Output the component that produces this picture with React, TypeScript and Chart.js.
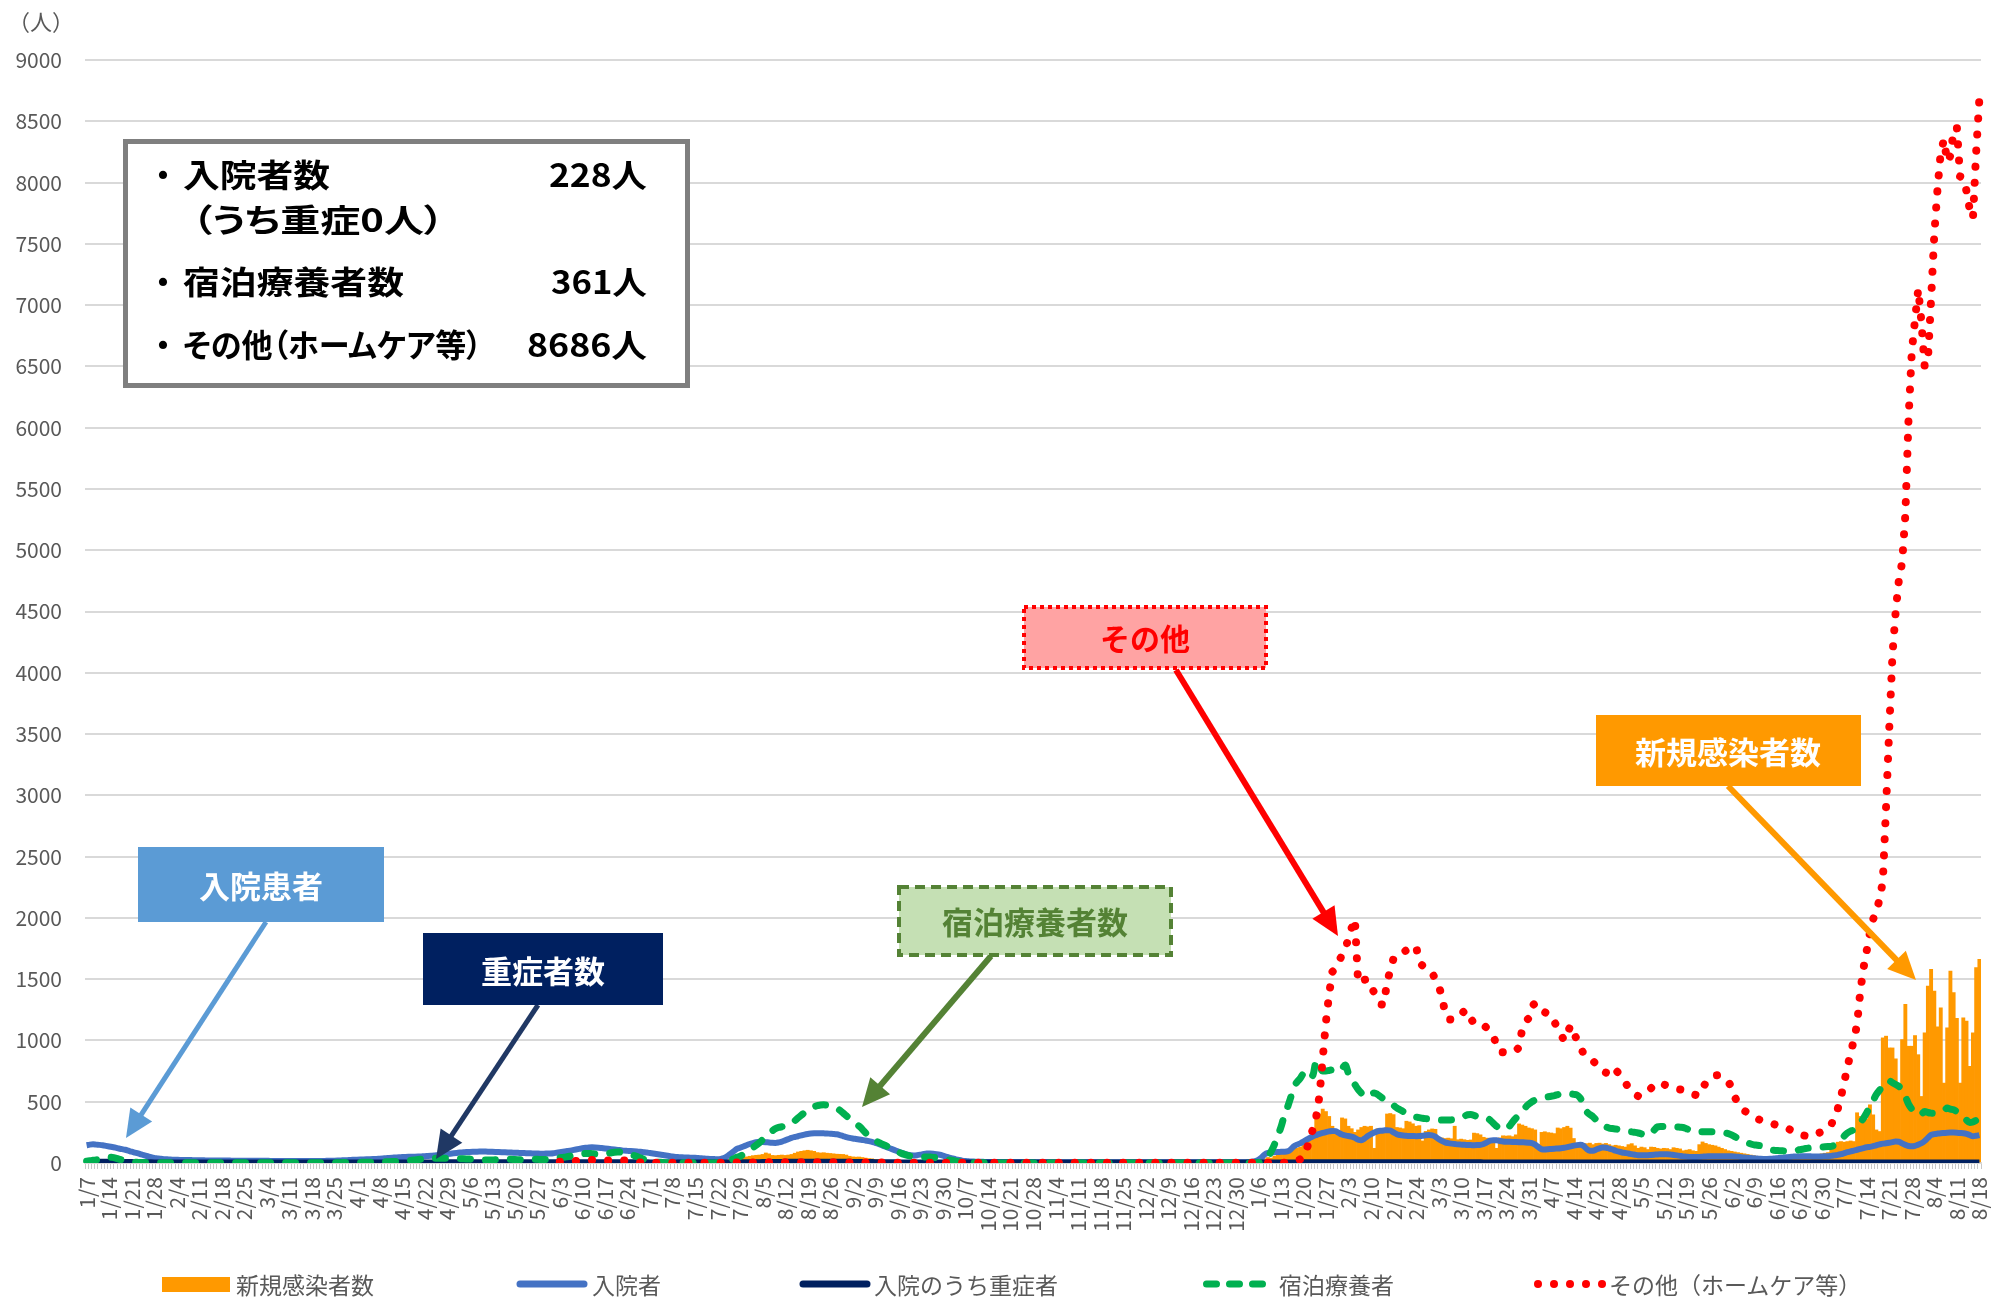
import React, { useEffect, useRef } from 'react';
import { Chart, registerables } from 'chart.js';
Chart.register(...registerables);

const FONT = "'Noto Sans CJK JP', 'Noto Sans', sans-serif";
Chart.defaults.font.family = FONT;

// daily categories 2021/1/7 .. 2022/8/18
const START_UTC = Date.UTC(2021, 0, 7);
const DAY_COUNT = 589;
const categories: string[] = [];
for (let i = 0; i < DAY_COUNT; i++) {
  const d = new Date(START_UTC + i * 86400000);
  categories.push(`${d.getUTCFullYear()}/${d.getUTCMonth() + 1}/${d.getUTCDate()}`);
}

// weekly tick labels (every 7th day)
const tickLabels = ['1/7','1/14','1/21','1/28','2/4','2/11','2/18','2/25','3/4','3/11','3/18','3/25','4/1','4/8','4/15','4/22','4/29','5/6','5/13','5/20','5/27','6/3','6/10','6/17','6/24','7/1','7/8','7/15','7/22','7/29','8/5','8/12','8/19','8/26','9/2','9/9','9/16','9/23','9/30','10/7','10/14','10/21','10/28','11/4','11/11','11/18','11/25','12/2','12/9','12/16','12/23','12/30','1/6','1/13','1/20','1/27','2/3','2/10','2/17','2/24','3/3','3/10','3/17','3/24','3/31','4/7','4/14','4/21','4/28','5/5','5/12','5/19','5/26','6/2','6/9','6/16','6/23','6/30','7/7','7/14','7/21','7/28','8/4','8/11','8/18'];

const yTicks = [0,500,1000,1500,2000,2500,3000,3500,4000,4500,5000,5500,6000,6500,7000,7500,8000,8500,9000];

// 新規感染者数 (daily new cases)
const newCases = [
22,25,20,18,15,20,18, // 1/7
16,14,12,15,10,8,9,
7,6,5,6,4,3,4,
3,2,3,2,2,1,2,
2,1,2,1,1,0,1, // 2/4
1,0,1,1,0,0,1,
1,1,0,1,1,0,0,
1,0,0,1,1,0,1,
0,1,1,0,1,1,0, // 3/4
1,1,0,1,2,1,0,
1,2,1,2,1,1,2,
2,1,2,3,2,1,2,
3,2,3,2,4,3,2, // 4/1
3,4,3,2,4,3,3,
4,3,5,4,3,4,3,
4,5,4,3,5,4,3,
5,4,6,5,4,5,4, // 4/29
5,6,4,5,6,5,4,
4,5,3,4,5,4,3,
3,4,5,4,6,5,4,
6,8,10,9,12,10,8, // 5/27
12,15,14,12,16,13,10, // 6/3
10,12,11,9,10,8,7,
8,7,6,7,5,6,5,
5,4,4,3,4,3,3,
3,4,3,3,2,3,2, // 7/1
2,3,3,2,3,4,3,
4,5,6,5,7,8,9,
15,20,25,28,30,32,36,
40,45,50,55,60,63,65, // 7/29
70,82,75,62,60,63,65, // 8/5
62,65,70,80,90,95,100,
104,100,95,85,82,84,80,
78,75,72,71,70,65,55,
50,48,49,45,40,36,34, // 9/2
30,28,25,22,20,18,15,
12,10,9,8,7,6,5,
4,4,3,3,3,2,2,
2,2,1,2,1,1,2, // 9/30
1,1,1,0,1,1,0, // 10/7
1,0,1,0,0,1,0,
0,1,0,0,1,0,0,
0,0,1,0,0,0,1,
0,0,0,1,0,0,0, // 11/4
1,0,0,0,0,1,0,
0,0,1,0,0,0,0,
0,1,0,0,0,1,0,
0,0,0,1,0,0,1, // 12/2
0,0,1,0,0,0,0,
1,0,0,0,1,0,0,
0,0,1,0,1,1,0,
1,1,2,2,3,5,8, // 12/30
15,25,35,45,40,55,70, // 2022 1/6
85,95,90,100,110,120,130,
150,180,217,240,380,400,440,
420,380,300,272,260,368,360,
300,280,250,270,290,300,295, // 2/3
300,120,280,250,244,400,404,
395,290,286,280,341,335,320,
300,305,180,258,270,278,275,
210,205,200,203,198,300,190, // 3/3
195,190,185,188,244,240,230,
210,203,200,200,120,205,222,
220,222,215,230,319,310,300,
286,280,270,150,250,255,248, // 3/31
245,240,286,280,290,300,285,
200,162,165,160,158,162,150,
160,162,155,160,150,140,145,
140,135,130,150,158,140,120, // 4/28
130,125,110,130,128,120,115,
120,118,110,125,120,115,100,
105,110,100,95,150,172,160,
150,145,140,130,120,110,100, // 5/26
95,90,85,80,75,70,65,
60,55,50,48,45,45,42,
40,40,38,38,36,36,38,
45,50,48,55,52,60,58, // 6/23
75,80,85,120,150,170,175, // 6/30
170,175,180,175,410,380,330, // 7/7
360,475,393,270,257,1021,1035,
939,939,850,625,1007,1294,953,
953,1040,884,543,1062,1444,1580, // 7/28
1403,1111,1267,652,1103,1567,1390,
1180,652,1185,1157,789,1062,1594,
1662 // 8/18
];

// 入院者 (hospitalized)
const hospitalized = [
145,150,152,150,148,145,140, // 1/7
135,130,125,118,113,108,100,
92,85,78,70,62,55,48,
42,38,34,31,30,28,27,
26,25,25,24,24,23,23, // 2/4
22,22,21,21,21,20,20,
20,20,20,19,19,19,19,
19,18,18,18,18,18,18,
18,17,17,17,17,17,17, // 3/4
17,17,17,16,16,16,16,
16,16,16,17,17,18,18,
19,20,21,22,23,25,26,
27,28,29,30,31,32,33, // 4/1
35,37,39,41,43,45,47,
48,49,50,51,52,53,54,
55,57,59,61,64,67,70,
73,76,79,82,85,87,89, // 4/29
90,91,92,93,93,93,92,
91,90,89,88,87,86,85,
84,83,82,81,80,79,78,
77,76,76,77,78,80,84, // 5/27
88,92,96,100,105,110,115,
120,124,127,128,127,125,122,
119,116,113,110,107,104,101,
99,97,95,93,91,88,85,
81,77,73,69,65,61,57, // 7/1
53,50,48,46,45,44,43,
42,40,38,36,34,33,32,
31,33,40,55,75,95,115,
125,135,145,155,163,170,173, // 7/29
172,170,167,165,164,168,175,
185,195,205,212,218,225,232,
237,240,242,243,243,242,241,
239,237,234,228,220,212,205,
200,196,192,188,184,178,172, // 9/2
165,155,145,135,125,115,105,
95,85,76,68,63,62,64,
68,73,77,78,76,72,67,
60,52,44,37,30,24,19, // 9/30
16,14,12,11,10,10,9,
9,9,9,8,8,8,8,
8,8,8,8,8,8,8,
8,7,7,7,7,7,7,
7,7,7,7,7,7,7, // 11/4
7,6,6,6,6,6,6,
6,6,6,6,6,6,6,
6,6,6,6,6,6,6,
6,6,6,6,6,6,6, // 12/2
6,6,6,6,6,6,6,
6,6,6,6,6,6,6,
6,6,6,6,6,6,7,
7,7,7,7,8,10,15, // 12/30
25,45,70,82,86,88,90, // 2022 1/6
91,92,95,110,135,150,160,
175,190,205,218,228,237,245,
252,258,262,260,245,232,225,
220,215,205,190,185,200,220, // 2/3
235,248,258,263,266,268,265,
250,235,228,224,222,220,220,
219,220,222,226,228,226,215,
195,180,168,162,158,155,152, // 3/3
150,148,147,146,145,146,148,
155,168,182,186,185,180,176,
174,173,172,171,170,169,168,
166,163,150,130,112,110,112, // 3/31
115,117,118,120,124,130,136,
142,146,148,140,115,100,100,
110,120,126,125,118,110,100,
92,86,82,78,72,68,64, // 4/28
63,63,64,66,68,70,71,
72,72,70,66,62,58,54,
52,50,49,49,50,52,54,
55,56,56,56,55,55,55, // 5/26
55,54,52,48,45,42,40,
38,36,34,33,33,34,36,
38,41,44,47,50,52,54,
54,55,55,55,54,54,54, // 6/23
54,55,56,58,62,66,72,
80,88,95,101,108,115,122, // 7/7
128,132,138,145,152,158,161,
165,170,175,174,160,148,139,
136,140,150,161,180,205,229, // 7/28
236,240,243,245,247,248,248,
247,245,243,238,228,218,222,
228 // 8/18
];

// 入院のうち重症者 (severe)
const severe = [
8,8,8,7,7,7,6,
6,6,5,5,5,4,4,
4,3,3,3,2,2,2,
1,1,1,1,1,1,1,
1,1,1,1,1,1,1,
1,1,1,1,1,1,1,
1,1,1,1,1,1,1,
0,0,0,0,0,0,0, // 2/25
0,0,0,0,0,0,0,
0,0,0,0,0,0,0,
0,0,0,0,0,0,0,
0,0,0,0,0,0,0,
0,0,0,0,0,0,0,
0,0,0,0,0,0,0, // 4/8
1,1,1,1,1,1,1,
1,1,1,1,1,1,1,
2,2,2,2,2,2,2, // 4/29
2,2,2,2,2,2,2,
2,2,2,2,2,2,2,
2,2,2,2,2,2,2,
2,2,2,2,2,2,2,
3,3,3,3,3,3,3, // 6/3
3,3,3,3,3,3,3,
3,3,3,3,3,3,3,
2,2,2,2,2,2,2,
1,1,1,1,1,1,1, // 7/1
1,1,1,1,1,1,1,
1,1,1,1,1,1,1,
1,1,1,1,1,1,1,
3,3,3,3,3,3,3, // 7/29
5,5,5,5,5,5,5,
6,6,6,6,6,6,6,
6,6,6,6,6,6,6,
6,6,6,6,6,6,6,
4,4,4,4,4,4,4, // 9/2
2,2,2,2,2,2,2,
1,1,1,1,1,1,1,
1,1,1,1,1,1,1,
1,1,1,1,1,1,1, // 9/30
0,0,0,0,0,0,0, // 10/7
0,0,0,0,0,0,0,
0,0,0,0,0,0,0,
0,0,0,0,0,0,0,
0,0,0,0,0,0,0,
0,0,0,0,0,0,0,
0,0,0,0,0,0,0,
0,0,0,0,0,0,0,
0,0,0,0,0,0,0,
0,0,0,0,0,0,0,
0,0,0,0,0,0,0,
0,0,0,0,0,0,0,
0,0,0,0,0,0,0, // 12/30
0,0,0,0,0,0,0, // 1/6
1,1,1,1,1,1,1,
2,2,2,2,2,2,2,
3,3,3,3,3,3,3,
3,3,3,3,3,3,3, // 2/3
3,3,3,3,3,3,3,
3,3,3,3,3,3,3,
2,2,2,2,2,2,2,
2,2,2,2,2,2,2, // 3/3
2,2,2,2,2,2,2,
1,1,1,1,1,1,1,
1,1,1,1,1,1,1,
1,1,1,1,1,1,1,
1,1,1,1,1,1,1, // 4/7
1,1,1,1,1,1,1,
0,0,0,0,0,0,0,
0,0,0,0,0,0,0,
0,0,0,0,0,0,0,
0,0,0,0,0,0,0,
0,0,0,0,0,0,0, // 5/19
0,0,0,0,0,0,0,
0,0,0,0,0,0,0,
0,0,0,0,0,0,0,
0,0,0,0,0,0,0,
0,0,0,0,0,0,0,
0,0,0,0,0,0,0, // 6/30
1,1,1,1,1,1,1, // 7/7
1,1,1,1,1,1,1,
1,1,1,1,1,1,1,
1,1,1,1,1,1,1,
1,1,1,1,1,1,1, // 8/4
0,0,0,0,0,0,0,
0 // 8/18
];

// 宿泊療養者 (hotel)
const hotel = [
14,18,22,25,30,38,44, // 1/7
48,46,40,32,25,18,12,
8,6,5,4,4,3,3,
3,3,2,2,2,2,2,
2,2,2,2,2,2,2, // 2/4
2,2,2,2,2,2,2,
2,2,2,2,2,2,2,
2,2,2,2,2,2,2,
2,2,2,2,2,2,2, // 3/4
2,2,2,2,2,2,2,
2,2,2,2,2,2,2,
3,3,3,4,4,4,5,
5,5,6,6,6,7,7, // 4/1
8,9,10,11,12,13,14,
15,17,19,22,25,28,31,
34,36,37,38,38,38,38,
38,38,37,36,35,34,33, // 4/29
32,30,28,26,25,24,24,
25,27,30,32,33,32,30,
28,27,27,28,29,30,30,
30,29,28,29,31,34,38, // 5/27
42,46,50,55,60,66,72,
76,78,78,76,74,72,72,
74,78,84,88,90,89,86,
80,72,62,52,42,32,24,
17,12,8,6,4,3,3, // 7/1
2,2,2,2,2,2,2,
2,2,2,1,1,1,1,
2,4,8,15,24,34,46,
55,70,88,106,125,145,165, // 7/29
190,215,240,262,280,290,296,
302,308,325,345,368,390,410,
430,448,460,468,474,475,472,
466,458,448,430,408,385,365,
345,322,300,275,245,218,200, // 9/2
182,168,156,145,132,118,104,
92,80,70,62,56,53,51,
50,49,49,48,46,43,40,
35,30,25,20,15,10,7, // 9/30
5,4,3,2,2,2,1, // 10/7
1,1,1,1,1,1,1,
1,1,1,1,1,1,1,
1,1,1,1,1,1,1,
1,1,1,1,1,1,1, // 11/4
1,1,1,1,1,1,1,
1,1,1,1,1,1,1,
1,1,1,1,1,1,1,
1,1,1,1,1,1,1, // 12/2
1,1,1,1,1,1,1,
1,1,1,1,1,1,1,
1,1,1,1,1,1,1,
1,1,1,1,1,1,2, // 12/30
3,10,25,50,95,150,220, // 2022 1/6
290,380,450,530,620,660,690,
730,740,700,720,830,790,750,
750,755,760,750,745,770,800,
730,680,640,600,570,540,545, // 2/3
560,572,560,540,520,505,490,
470,450,435,420,410,395,382,
375,370,365,362,360,358,355,
352,350,350,350,352,355,360, // 3/3
370,382,394,396,388,380,377,
376,370,350,325,300,280,272,
281,300,335,365,390,420,455,
480,500,513,522,530,535,540, // 3/31
545,550,558,566,569,568,565,
560,555,530,480,420,396,377,
350,320,305,295,285,281,278,
272,266,260,255,254,250,245, // 4/28
238,230,227,240,270,295,298,
297,296,295,295,294,292,290,
280,268,256,254,254,254,254,
254,254,253,252,250,245,240, // 5/26
230,215,200,186,175,165,155,
148,145,140,130,120,110,104,
102,100,99,98,98,98,99,
108,112,118,122,125,127,128, // 6/23
130,132,134,136,145,165,190,
220,245,260,270,290,330,366, // 7/7
410,460,510,560,595,630,666,
670,655,640,625,600,543,480,
440,405,395,400,420,412,407, // 7/28
405,410,420,428,448,440,434,
420,407,380,350,330,335,348,
361 // 8/18
];

const N = null;
// その他（ホームケア等） (home care etc.)
const homeCare = [
N,N,N,N,N,N,N, // 1/7
N,N,N,N,N,N,N,
N,N,N,N,N,N,N,
N,N,N,N,N,N,N,
N,N,N,N,N,N,N, // 2/4
N,N,N,N,N,N,N,
N,N,N,N,N,N,N,
N,N,N,N,N,N,N,
N,N,N,N,N,N,N, // 3/4
N,N,N,N,N,N,N,
N,N,N,N,N,N,N,
N,N,N,N,N,N,N,
N,N,N,N,N,N,N, // 4/1
N,N,N,N,N,N,N,
N,N,N,N,N,N,N,
N,N,N,N,N,N,N,
N,N,N,N,N,N,N, // 4/29
N,N,N,N,N,N,N,
N,N,N,N,N,N,N,
N,N,N,N,N,N,N,
N,N,N,N,N,N,N, // 5/27
10,12,14,15,16,17,18, // 6/3
20,22,23,24,24,23,22,
21,21,21,20,20,20,20,
18,15,10,6,4,3,3,
3,3,3,3,3,3,3, // 7/1
3,3,3,3,3,3,3,
3,3,3,3,3,3,3,
3,3,4,4,4,4,5,
5,5,5,5,5,5,5, // 7/29
5,6,6,6,6,6,6,
6,6,6,6,6,6,6,
6,6,6,6,6,6,6,
6,6,6,5,5,5,5,
5,5,5,5,4,4,4, // 9/2
4,4,4,3,3,3,3,
2,2,2,2,2,2,2,
2,2,2,2,2,2,2,
2,2,2,2,2,2,2, // 9/30
2,2,2,2,2,2,2, // 10/7
2,2,2,2,2,2,2,
2,2,2,2,2,2,2,
2,2,2,2,2,2,2,
2,2,2,2,2,2,2, // 11/4
2,2,2,2,2,2,2,
2,2,2,2,2,2,2,
2,2,2,2,2,2,2,
2,2,2,2,2,2,2, // 12/2
2,2,2,2,2,2,2,
2,2,2,2,2,2,2,
2,2,2,2,2,2,2,
2,2,2,2,2,2,2, // 12/30
2,2,2,2,2,2,2, // 2022 1/6
2,2,3,5,10,18,30,
44,110,200,280,380,550,850,
1150,1380,1560,1590,1640,1700,1750,
1830,1920,1990,1470,1480,1495,1500, // 2/3
1440,1390,1340,1295,1290,1480,1570,
1670,1700,1715,1720,1736,1750,1765,
1770,1640,1610,1580,1565,1551,1500,
1450,1360,1230,1172,1170,1169,1190, // 3/3
1215,1240,1245,1180,1136,1132,1130,
1127,1100,1070,1040,960,905,903,
901,901,905,920,942,1100,1150,
1182,1280,1305,1270,1242,1230,1215, // 3/31
1209,1150,1100,1050,999,1060,1122,
1060,1005,960,890,870,850,835,
800,770,745,737,760,786,760,
730,704,660,610,580,560,546, // 4/28
550,560,580,610,640,655,648,
640,632,622,615,608,600,595,
584,573,562,555,551,600,660,
680,700,715,718,700,680,663, // 5/26
620,538,490,450,426,410,395,
375,360,350,340,330,322,318,
310,303,298,290,275,260,245,
235,228,222,216,220,235,245, // 6/23
253,265,285,313,380,441,540,
660,780,900,1000,1130,1400,1590, // 7/7
1733,1880,1990,2060,2150,2300,2900,
3550,4150,4500,4760,4900,5290,6080,
6620,6880,7130,6860,6500,6550,7050, // 7/28
7580,7950,8250,8350,8170,8220,8420,
8453,8050,8038,7930,7780,7709,8250,
8686 // 8/18
];

function Arrow(p: { x1: number; y1: number; x2: number; y2: number; color: string; w: number; hl?: number; hw?: number }) {
  const hl = p.hl ?? 28, hw = p.hw ?? 13;
  const dx = p.x2 - p.x1, dy = p.y2 - p.y1;
  const L = Math.hypot(dx, dy);
  const ux = dx / L, uy = dy / L;
  const bx = p.x2 - ux * hl, by = p.y2 - uy * hl;
  const px = -uy, py = ux;
  return (
    <g>
      <line x1={p.x1} y1={p.y1} x2={bx + ux * 3} y2={by + uy * 3} stroke={p.color} strokeWidth={p.w} />
      <polygon points={`${p.x2},${p.y2} ${bx + px * hw},${by + py * hw} ${bx - px * hw},${by - py * hw}`} fill={p.color} />
    </g>
  );
}

export default function App() {
  const canvasRef = useRef<HTMLCanvasElement>(null);

  useEffect(() => {
    const canvas = canvasRef.current;
    if (!canvas) return;
    const chart = new Chart(canvas, {
      type: 'bar',
      data: {
        labels: categories,
        datasets: [
          { type: 'bar', label: '新規感染者数', data: newCases, backgroundColor: '#ff9900', borderWidth: 0, barPercentage: 1, categoryPercentage: 1, order: 5 } as any,
          { type: 'line', label: '入院者', data: hospitalized, borderColor: '#4472c4', borderWidth: 6, pointRadius: 0, cubicInterpolationMode: 'monotone', order: 4 } as any,
          { type: 'line', label: '入院のうち重症者', data: severe, borderColor: '#002060', borderWidth: 7, pointRadius: 0, order: 3 } as any,
          { type: 'line', label: '宿泊療養者', data: hotel, borderColor: '#00b050', borderWidth: 7, borderDash: [10, 15], borderCapStyle: 'round', pointRadius: 0, cubicInterpolationMode: 'monotone', order: 2 } as any,
          { type: 'line', label: 'その他（ホームケア等）', data: homeCare, borderColor: '#ff0000', borderWidth: 8, borderDash: [0.1, 16], borderCapStyle: 'round', pointRadius: 0, spanGaps: false, order: 1 } as any,
        ],
      },
      options: {
        responsive: false,
        animation: false,
        devicePixelRatio: 1,
        layout: { padding: { left: 0, right: 19, top: 60, bottom: 0 } },
        plugins: { legend: { display: false }, tooltip: { enabled: false } },
        scales: {
          x: {
            grid: { display: true, drawOnChartArea: false, tickLength: 6, color: '#c8c8c8', lineWidth: 1 },
            border: { display: true, color: '#d9d9d9', width: 2 },
            ticks: {
              autoSkip: false,
              maxRotation: 90,
              minRotation: 90,
              padding: 8,
              color: '#595959',
              font: { size: 21, family: FONT },
              callback: (_v: any, i: number) => (i % 7 === 0 ? tickLabels[i / 7] : ''),
            },
            afterFit: (s: any) => { s.height = 134; s.paddingLeft = 0; s.paddingRight = 0; },
          },
          y: {
            min: 0,
            max: 9000,
            afterBuildTicks: (s: any) => { s.ticks = yTicks.map((v) => ({ value: v })); },
            ticks: { padding: 23, color: '#595959', font: { size: 21, family: FONT }, callback: (v: any) => String(v) },
            grid: { color: '#d9d9d9', lineWidth: 2, drawTicks: false },
            border: { display: false },
            afterFit: (s: any) => { s.width = 85; },
          },
        },
      } as any,
    });
    return () => chart.destroy();
  }, []);

  const txt = { fontFamily: FONT } as React.CSSProperties;

  return (
    <div style={{ position: 'absolute', left: 0, top: 0, width: 2000, height: 1297, overflow: 'hidden', background: '#fff' }}>
      <canvas ref={canvasRef} width={2000} height={1297} style={{ display: 'block', width: 2000, height: 1297 }} />
      <svg width={2000} height={1297} style={{ position: 'absolute', left: 0, top: 0, pointerEvents: 'none', ...txt }}>
        <text x={8} y={20} fontSize={22} fill="#595959" dominantBaseline="central">（人）</text>

        {/* info box */}
        <rect x={125.5} y={141.5} width={562} height={244} fill="#ffffff" stroke="#7f7f7f" strokeWidth={5} />
        <g fontWeight="bold" fontSize={32} fill="#000" style={{ fontFeatureSettings: '"palt"' }}>
          <text x={155} y={173} dominantBaseline="central">・</text>
          <text x={183} y={173} dominantBaseline="central" textLength={147} lengthAdjust="spacingAndGlyphs">入院者数</text>
          <text x={647} y={173} dominantBaseline="central" textAnchor="end" textLength={98} lengthAdjust="spacingAndGlyphs">228人</text>
          <text x={192} y={218} dominantBaseline="central" textLength={252} lengthAdjust="spacingAndGlyphs">（うち重症0人）</text>
          <text x={155} y={280} dominantBaseline="central">・</text>
          <text x={183} y={280} dominantBaseline="central" textLength={221} lengthAdjust="spacingAndGlyphs">宿泊療養者数</text>
          <text x={647} y={280} dominantBaseline="central" textAnchor="end" textLength={96} lengthAdjust="spacingAndGlyphs">361人</text>
          <text x={155} y={343} dominantBaseline="central">・</text>
          <text x={183} y={343} dominantBaseline="central" textLength={299} lengthAdjust="spacingAndGlyphs">その他（ホームケア等）</text>
          <text x={647} y={343} dominantBaseline="central" textAnchor="end" textLength={120} lengthAdjust="spacingAndGlyphs">8686人</text>
        </g>

        {/* arrows */}
        <Arrow x1={266} y1={922} x2={126} y2={1138} color="#5b9bd5" w={5} />
        <Arrow x1={538} y1={1005} x2={436} y2={1159} color="#203864" w={5} />
        <Arrow x1={991} y1={956} x2={862} y2={1107} color="#548235" w={6} />
        <Arrow x1={1176} y1={670} x2={1338} y2={936} color="#ff0000" w={6} />
        <Arrow x1={1728} y1={786} x2={1916} y2={980} color="#ff9900" w={6} />

        {/* annotation boxes */}
        <rect x={138} y={847} width={246} height={75} fill="#5b9bd5" />
        <text x={261} y={884} fontSize={31} fontWeight="bold" fill="#ffffff" textAnchor="middle" dominantBaseline="central">入院患者</text>

        <rect x={423} y={933} width={240} height={72} fill="#002060" />
        <text x={543} y={969} fontSize={31} fontWeight="bold" fill="#ffffff" textAnchor="middle" dominantBaseline="central">重症者数</text>

        <rect x={899} y={887} width={272} height={68} fill="#c5e0b4" stroke="#548235" strokeWidth={4} strokeDasharray="10 6" />
        <text x={1035} y={920} fontSize={31} fontWeight="bold" fill="#548235" textAnchor="middle" dominantBaseline="central">宿泊療養者数</text>

        <rect x={1024} y={607} width={242} height={61} fill="#ffa3a3" stroke="#ff0000" strokeWidth={4} strokeDasharray="4 4" />
        <text x={1145} y={637} fontSize={30} fontWeight="bold" fill="#ff0000" textAnchor="middle" dominantBaseline="central">その他</text>

        <rect x={1596} y={715} width={265} height={71} fill="#ff9900" />
        <text x={1728} y={750} fontSize={31} fontWeight="bold" fill="#ffffff" textAnchor="middle" dominantBaseline="central">新規感染者数</text>

        {/* legend */}
        <g fontSize={23} fill="#595959">
          <rect x={162} y={1277} width={68} height={15} fill="#ff9900" />
          <text x={236} y={1284} dominantBaseline="central">新規感染者数</text>
          <line x1={520} y1={1284} x2={584} y2={1284} stroke="#4472c4" strokeWidth={7} strokeLinecap="round" />
          <text x={592} y={1284} dominantBaseline="central">入院者</text>
          <line x1={803} y1={1284} x2={867} y2={1284} stroke="#002060" strokeWidth={7} strokeLinecap="round" />
          <text x={874} y={1284} dominantBaseline="central">入院のうち重症者</text>
          <line x1={1206.5} y1={1284} x2={1265} y2={1284} stroke="#00b050" strokeWidth={7} strokeDasharray="10 13" strokeLinecap="round" />
          <text x={1279} y={1284} dominantBaseline="central">宿泊療養者</text>
          <circle cx={1538} cy={1284} r={4} fill="#ff0000" />
          <circle cx={1554} cy={1284} r={4} fill="#ff0000" />
          <circle cx={1570} cy={1284} r={4} fill="#ff0000" />
          <circle cx={1586} cy={1284} r={4} fill="#ff0000" />
          <circle cx={1602} cy={1284} r={4} fill="#ff0000" />
          <text x={1609} y={1284} dominantBaseline="central">その他（ホームケア等）</text>
        </g>
      </svg>
    </div>
  );
}
